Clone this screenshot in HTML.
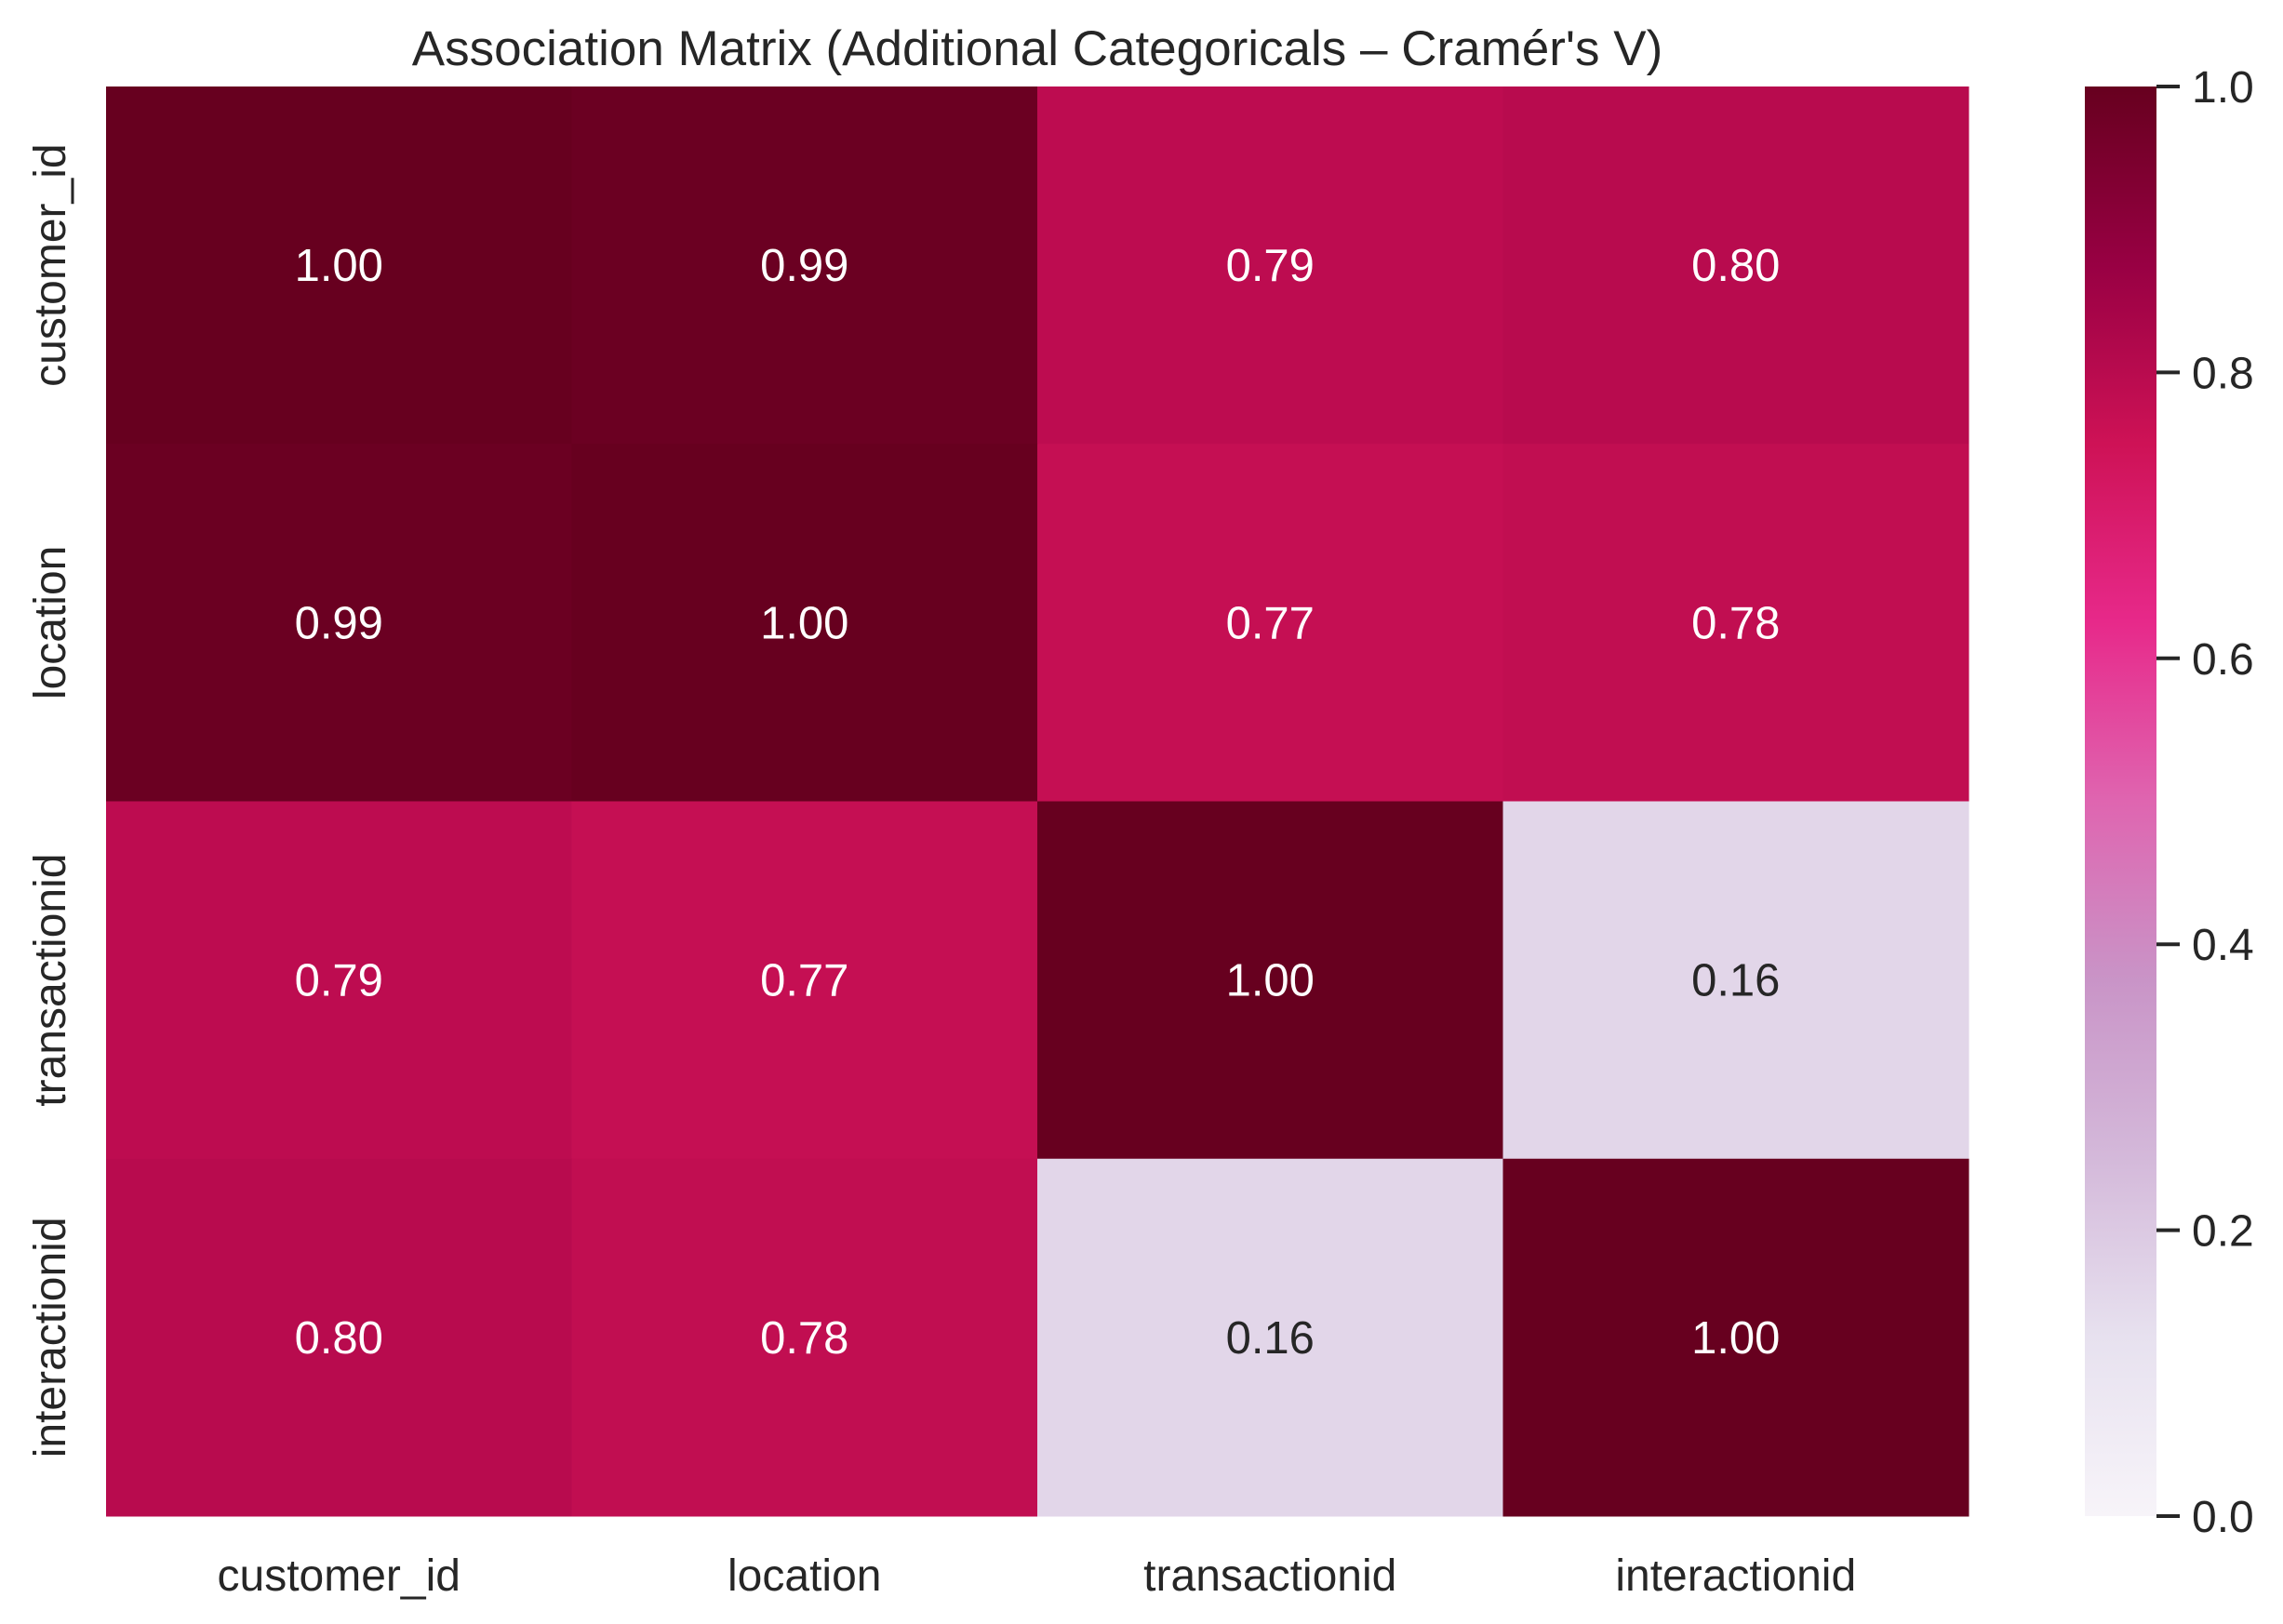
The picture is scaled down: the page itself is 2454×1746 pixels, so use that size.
<!DOCTYPE html>
<html><head><meta charset="utf-8"><style>
html,body{margin:0;padding:0;background:#fff;}
svg{display:block;font-family:"Liberation Sans",Arial,sans-serif;}
</style></head><body>
<svg id="chart" width="2454" height="1746" viewBox="0 0 2454 1746" xmlns="http://www.w3.org/2000/svg">
<defs>
<linearGradient id="cbgrad" x1="0" y1="1" x2="0" y2="0">
<stop offset="0" stop-color="#f7f4f9"/><stop offset="0.125" stop-color="#e7e1ef"/><stop offset="0.25" stop-color="#d4b9da"/><stop offset="0.375" stop-color="#c994c7"/><stop offset="0.5" stop-color="#df65b0"/><stop offset="0.625" stop-color="#e7298a"/><stop offset="0.75" stop-color="#ce1256"/><stop offset="0.875" stop-color="#980043"/><stop offset="1" stop-color="#67001f"/>
</linearGradient>
</defs>
<text x="1115" y="70" font-size="53" text-anchor="middle" fill="#262626">Association Matrix (Additional Categoricals – Cramér's V)</text>
<g id="cells"></g>
<g id="xlabels"></g>
<g id="ylabels"></g>
<rect x="2241" y="93" width="77" height="1537" fill="url(#cbgrad)"/>
<g id="cbticks"></g>
</svg>
<script>
const categories = ["customer_id","location","transactionid","interactionid"];
const matrixRow0 = [1.00,0.99,0.79,0.80];
const matrixRow1 = [0.99,1.00,0.77,0.78];
const matrixRow2 = [0.79,0.77,1.00,0.16];
const matrixRow3 = [0.80,0.78,0.16,1.00];
const matrix = [matrixRow0,matrixRow1,matrixRow2,matrixRow3];
const cbTickValues = [0.0,0.2,0.4,0.6,0.8,1.0];
const cbTickLabels = ["0.0","0.2","0.4","0.6","0.8","1.0"];

const NS="http://www.w3.org/2000/svg";
const L=114,R=2116,T=93,B=1630;
const cw=(R-L)/categories.length, ch=(B-T)/categories.length;
const xPos=i=>L+i*cw, yPos=j=>T+j*ch;
const cbY=v=>B-(B-T)*v;
const stops=["#f7f4f9","#e7e1ef","#d4b9da","#c994c7","#df65b0","#e7298a","#ce1256","#980043","#67001f"];
function hex(h){return [1,3,5].map(i=>parseInt(h.substr(i,2),16));}
function color(v){v=Math.max(0,Math.min(1,v));const p=v*(stops.length-1);const i=Math.min(Math.floor(p),stops.length-2);const t=p-i;const a=hex(stops[i]),b=hex(stops[i+1]);return "rgb("+a.map((x,k)=>Math.round(x+(b[k]-x)*t)).join(",")+")";}
function lum(v){const c=color(v).match(/\d+/g).map(Number);return 0.299*c[0]+0.587*c[1]+0.114*c[2];}
function mk(tag,attrs,parent){const e=document.createElementNS(NS,tag);for(const k in attrs)e.setAttribute(k,attrs[k]);parent.appendChild(e);return e;}
const cells=document.getElementById('cells');
matrix.forEach((row,j)=>row.forEach((v,i)=>{
  const r=mk('rect',{x:xPos(i),y:yPos(j),width:cw+0.5,height:ch+0.5,fill:color(v)},cells);
  
  
  const t=mk('text',{x:xPos(i)+cw/2,y:yPos(j)+ch/2+17,'font-size':49,'text-anchor':'middle',fill:lum(v)<140?'#ffffff':'#262626'},cells);
  t.textContent=v.toFixed(2);
  
  
}));
const xl=document.getElementById('xlabels');
categories.forEach((c,i)=>{
  const t=mk('text',{x:xPos(i)+cw/2,y:1710,'font-size':48,'text-anchor':'middle',fill:'#262626'},xl);
  t.textContent=c;
  
  
});
const yl=document.getElementById('ylabels');
categories.forEach((c,j)=>{
  const cy=yPos(j)+ch/2;
  const t=mk('text',{x:0,y:0,transform:'translate(70,'+cy+') rotate(-90)','font-size':48,'text-anchor':'middle',fill:'#262626'},yl);
  t.textContent=c;
  
  
});
const cb=document.getElementById('cbticks');
cbTickValues.forEach((v,k)=>{
  const y=cbY(v);
  const l=mk('line',{x1:2318,x2:2343,y1:y,y2:y,stroke:'#262626','stroke-width':4},cb);
  
  
  const t=mk('text',{x:2356,y:y+17,'font-size':48,fill:'#262626'},cb);
  t.textContent=cbTickLabels[k];
  
  
});
</script>
</body></html>
